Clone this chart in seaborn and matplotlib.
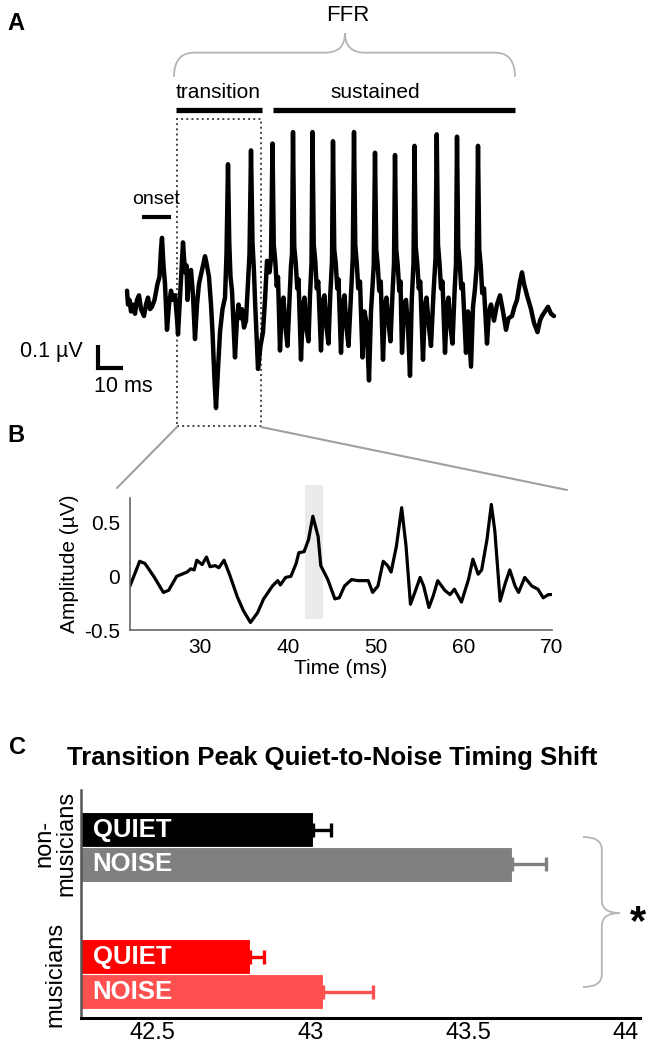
import matplotlib
matplotlib.use("Agg")
import numpy as np
import pandas as pd
import matplotlib.pyplot as plt
import seaborn as sns
from matplotlib.path import Path
from matplotlib.patches import PathPatch, Rectangle
from matplotlib.lines import Line2D

# ---- panel A: FFR to /da/ (ms, uV) ----
ffr_t = [0.0, 0.4, 1.0, 1.6, 2.4, 3.2, 4.0, 4.8, 5.6, 6.8, 7.6, 8.4, 9.2, 10.0, 11.0, 12.2, 13.0,
         13.6, 14.0, 14.6, 15.2, 16.0, 16.8, 17.6, 18.4, 19.2, 20.0, 20.4, 21.4, 22.4, 23.2, 23.8,
         24.2, 24.6, 25.6, 26.4, 27.2, 28.0, 28.8, 29.8, 31.2, 31.8, 32.8, 33.6, 34.2, 35.0, 35.6,
         36.4, 37.2, 38.2, 39.2, 39.8, 40.4, 40.9, 41.4, 42.0, 43.2, 44.0, 44.6, 45.4, 46.0, 46.8,
         47.6, 48.4, 49.0, 49.6, 50.2, 50.8, 51.2, 52.4, 53.4, 54.4, 55.2, 56.0, 57.0,
         57.6, 58.2, 58.7, 59.3, 59.9, 60.4, 61.2, 62.0, 62.6, 63.4, 64.2, 65.0, 65.6, 66.0,
         66.4, 66.9, 67.5, 68.1, 68.6, 69.6, 70.4, 71.0, 71.8, 72.6, 73.2, 73.8,
         74.2, 74.7, 75.3, 75.9, 76.5, 77.6, 78.4, 79.0, 79.8, 80.6, 81.3, 82.0,
         82.4, 82.9, 83.5, 84.1, 84.6, 85.6, 86.4, 87.0, 87.8, 88.6, 89.6, 90.3,
         90.8, 91.3, 91.9, 92.5, 93.2, 94.2, 95.0, 95.8, 96.8, 97.6, 98.7,
         99.2, 99.7, 100.3, 100.9, 101.5, 102.4, 103.2, 103.8, 104.8, 105.4, 106.2, 106.8,
         107.2, 107.7, 108.3, 108.9, 109.4, 110.0, 110.9, 111.6, 112.4, 113.2, 113.9, 114.6,
         115.0, 115.5, 116.1, 116.7, 117.3, 118.4, 119.2, 119.8, 120.8, 121.6, 122.6, 123.4,
         123.9, 124.4, 125.0, 125.6, 126.2, 127.2, 128.0, 128.6, 129.4, 130.2, 131.0, 131.6,
         132.0, 132.5, 133.1, 133.7, 134.3, 135.6, 136.4, 137.6, 138.4, 139.2, 139.9,
         140.4, 140.9, 141.5, 142.1, 142.8, 144.0, 144.8, 145.6, 146.8, 148.0, 149.2,
         150.4, 151.6, 152.6, 154.0, 155.0, 156.0, 157.2, 158.0, 158.8, 160.0, 161.6, 162.8,
         164.2, 165.2, 166.0, 167.2, 168.4, 169.6, 170.8]
ffr_amp = [0.04, -0.02, 0.0, -0.05, -0.02, -0.06, 0.0, 0.02, -0.04, -0.07, -0.02, 0.01, -0.04, -0.03, 0.0, 0.07, 0.10,
           0.22, 0.27, 0.15, 0.07, -0.13, -0.02, 0.04, 0.0, 0.02, -0.08, -0.15, 0.05, 0.25, 0.12, 0.15,
           0.0, 0.08, 0.13, 0.02, -0.17, -0.02, 0.07, 0.12, 0.19, 0.16, 0.10, -0.02, -0.14, -0.35, -0.47,
           -0.30, -0.14, -0.04, 0.01, 0.20, 0.59, 0.25, 0.10, 0.04, -0.25, -0.08, -0.02, -0.08, -0.04, -0.12,
           -0.09, 0.08, 0.20, 0.65, 0.25, 0.12, 0.0, -0.30, -0.20, -0.14, 0.0, 0.17, 0.12,
           0.18, 0.68, 0.24, 0.17, 0.06, 0.10, -0.22, -0.02, 0.01, -0.12, -0.20, 0.0, 0.15, 0.20,
           0.73, 0.23, 0.16, 0.05, 0.09, -0.26, -0.02, 0.01, -0.13, -0.18, 0.02, 0.16,
           0.73, 0.24, 0.17, 0.05, 0.08, -0.22, 0.0, 0.02, -0.12, -0.19, 0.02, 0.17,
           0.69, 0.22, 0.16, 0.05, 0.09, -0.23, -0.01, 0.02, -0.12, -0.20, 0.02, 0.18,
           0.73, 0.24, 0.16, 0.05, 0.08, -0.25, -0.05, -0.10, -0.35, -0.05, 0.15,
           0.64, 0.22, 0.15, 0.04, 0.08, -0.26, -0.02, 0.01, -0.12, -0.18, 0.03, 0.16,
           0.63, 0.22, 0.15, 0.04, 0.08, -0.23, -0.02, 0.0, -0.12, -0.33, 0.0, 0.16,
           0.67, 0.23, 0.16, 0.05, 0.08, -0.26, -0.02, 0.01, -0.12, -0.20, 0.03, 0.18,
           0.72, 0.24, 0.16, 0.05, 0.08, -0.23, -0.02, 0.01, -0.12, -0.19, 0.03, 0.16,
           0.71, 0.23, 0.16, 0.05, 0.07, -0.23, -0.05, -0.29, -0.03, 0.05, 0.15,
           0.67, 0.22, 0.15, 0.03, 0.05, -0.19, -0.05, -0.02, -0.09, -0.02, 0.02,
           -0.05, -0.13, -0.08, -0.07, -0.03, 0.0, 0.08, 0.12, 0.07, 0.02, -0.04, -0.10,
           -0.14, -0.09, -0.07, -0.05, -0.03, -0.06, -0.07]

# ---- panel B: transition region ----
zoom_t = [22.0, 23.1, 23.7, 24.7, 25.8, 26.4, 27.3, 28.5, 28.9, 29.3, 29.6, 30.2, 30.7, 31.1, 31.7,
          32.1, 32.7, 33.4, 34.2, 34.9, 35.7, 36.5, 37.2, 38.2, 38.8, 39.1, 39.7, 40.3, 40.9,
          41.2, 41.8, 42.3, 42.8, 43.4, 43.7, 44.5, 45.3, 45.8, 46.4, 47.2, 47.9, 49.1, 49.6,
          50.2, 50.8, 51.3, 51.7, 52.3, 52.9, 53.4, 53.9, 54.4, 55.0, 55.4, 56.0, 56.5, 57.0,
          57.8, 58.4, 58.9, 59.7, 60.5, 61.0, 61.6, 62.0, 62.6, 63.1, 63.5, 64.1, 64.7, 65.2,
          65.8, 66.2, 66.9, 67.7, 68.4, 69.0, 69.6, 70.0]
zoom_amp = [-0.09, 0.14, 0.12, 0.0, -0.15, -0.13, 0.0, 0.04, 0.07, 0.06, 0.15, 0.11, 0.18, 0.09, 0.10,
            0.08, 0.15, 0.0, -0.19, -0.32, -0.43, -0.34, -0.21, -0.09, -0.04, -0.08, -0.01, 0.0, 0.12,
            0.22, 0.23, 0.34, 0.56, 0.37, 0.10, -0.03, -0.21, -0.20, -0.09, -0.03, -0.04, -0.04, -0.15,
            -0.09, 0.14, 0.10, 0.04, 0.28, 0.64, 0.28, -0.26, -0.15, -0.01, -0.09, -0.29, -0.18, -0.04,
            -0.13, -0.17, -0.12, -0.24, -0.03, 0.16, 0.02, 0.06, 0.34, 0.67, 0.42, -0.23, -0.06, 0.06,
            -0.09, -0.15, -0.01, -0.09, -0.12, -0.20, -0.17, -0.17]
peak_window = (41.9, 43.9)
zoom_xticks = [30, 40, 50, 60, 70]
zoom_yticks = [-0.5, 0, 0.5]
zoom_yticklabels = ["-0.5", "0", "0.5"]

# ---- panel C: transition peak latency (ms) ----
groups = ["non-musicians", "non-musicians", "musicians", "musicians"]
conditions = ["QUIET", "NOISE", "QUIET", "NOISE"]
peak_latency = [43.01, 43.64, 42.81, 43.04]
latency_sem = [0.054, 0.108, 0.044, 0.159]
bar_colors = ["#000000", "#808080", "#ff0000", "#ff5050"]
c_ticks = [42.5, 43, 43.5, 44]
c_ticklabels = ["42.5", "43", "43.5", "44"]

W, H = 649, 1050


def fx(px):
    return px / W


def fy(py):
    return 1 - py / H


def curly_brace(ax, a0, a1, am, b_end, b_arm, b_tip, r, vertical=False, **kw):
    pts = [(a0, b_end), (a0, b_arm), (a0 + r, b_arm), (am - r, b_arm), (am, b_arm), (am, b_tip),
           (am, b_arm), (am + r, b_arm), (a1 - r, b_arm), (a1, b_arm), (a1, b_end)]
    codes = [Path.MOVETO, Path.CURVE3, Path.CURVE3, Path.LINETO, Path.CURVE3, Path.CURVE3,
             Path.CURVE3, Path.CURVE3, Path.LINETO, Path.CURVE3, Path.CURVE3]
    if vertical:
        pts = [(b, a) for a, b in pts]
    ax.add_patch(PathPatch(Path(pts, codes), fill=False, clip_on=False, **kw))


sns.set_theme(style="white")
plt.rcParams["font.family"] = ["Liberation Sans", "DejaVu Sans"]
plt.rcParams["axes.unicode_minus"] = False
for k in ("text.color", "axes.labelcolor", "xtick.color", "ytick.color"):
    plt.rcParams[k] = "black"

fig = plt.figure(figsize=(6.49, 10.5), dpi=100)

# ---------------- A ----------------
axa = fig.add_axes([0, fy(440), 1, 440 / H])
sns.lineplot(x=ffr_t, y=ffr_amp, ax=axa, color="black", lw=3.2, sort=False, estimator=None)
axa.set_xlim(-50.8, 208.8)
axa.set_ylim(-0.609, 1.304)
axa.axis("off")

curly_brace(axa, 18.8, 155.2, 87.2, 0.97, 1.075, 1.16, 8, edgecolor="#b5b5b5", lw=1.3)
axa.text(88.4, 1.235, "FFR", ha="center", va="center", fontsize=16)
axa.text(36.4, 0.900, "transition", ha="center", va="center", fontsize=15)
axa.text(99.2, 0.900, "sustained", ha="center", va="center", fontsize=15)
axa.plot([19.6, 54.0], [0.825, 0.825], color="black", lw=3.8, solid_capstyle="butt")
axa.plot([58.4, 155.2], [0.825, 0.825], color="black", lw=3.8, solid_capstyle="butt")
axa.text(11.6, 0.435, "onset", ha="center", va="center", fontsize=14)
axa.plot([6.0, 17.6], [0.362, 0.362], color="black", lw=3.0, solid_capstyle="butt")
axa.add_patch(Rectangle((20.0, -0.548), 33.6, 1.335, fill=False, ls=":", lw=1.4, edgecolor="#444444"))

# scale bar 0.1 uV / 10 ms
axa.plot([-11.6, -11.6, -1.6], [-0.196, -0.296, -0.296], color="black", lw=3.0,
         solid_joinstyle="miter", solid_capstyle="butt")
axa.text(-17.5, -0.226, "0.1 µV", ha="right", va="center", fontsize=15.5)
axa.text(-13.4, -0.378, "10 ms", ha="left", va="center", fontsize=15.5)

# ---------------- B ----------------
axb = fig.add_axes([fx(130), fy(630), 422 / W, 132 / H])
axb.add_patch(Rectangle((peak_window[0], -0.40), peak_window[1] - peak_window[0], 1.25,
                        facecolor="#ebebeb", edgecolor="none", clip_on=False, zorder=0))
sns.lineplot(x=zoom_t, y=zoom_amp, ax=axb, color="black", lw=2.3, sort=False, estimator=None)
axb.set_xlim(22, 70)
axb.set_ylim(-0.5, 0.73)
axb.set_xticks(zoom_xticks)
axb.set_yticks(zoom_yticks)
axb.set_yticklabels(zoom_yticklabels)
axb.tick_params(axis="x", direction="in", length=4, width=1, color="#666666", labelsize=15, pad=6)
axb.tick_params(axis="y", length=0, labelsize=15, pad=7)
axb.set_xlabel("Time (ms)", fontsize=15, labelpad=1)
axb.set_ylabel("Amplitude (µV)", fontsize=15, labelpad=4)
sns.despine(ax=axb)
for s in ("left", "bottom"):
    axb.spines[s].set_color("#666666")
    axb.spines[s].set_linewidth(1.2)

# connectors A -> B
for (x0, y0), (x1, y1) in [((177, 427), (117, 488)), ((261, 427), (567, 490))]:
    fig.add_artist(Line2D([fx(x0), fx(x1)], [fy(y0), fy(y1)], transform=fig.transFigure,
                          color="#a0a0a0", lw=1.5))

# ---------------- C ----------------
axc = fig.add_axes([fx(81), fy(1018), 559 / W, 228 / H])
df = pd.DataFrame({"group": groups, "condition": conditions, "latency": peak_latency})
sns.barplot(data=df, x="latency", y="group", hue="condition", orient="h", width=0.55,
            order=["non-musicians", "musicians"], hue_order=["QUIET", "NOISE"],
            palette=["#000000", "#808080"], legend=False, ax=axc, errorbar=None)

# recolour each bar and add the one-sided error bars
centers = []
for p in axc.patches:
    yc = p.get_y() + p.get_height() / 2
    gi = int(round(yc))
    ci = 0 if yc < gi else 1
    idx = gi * 2 + ci
    p.set_facecolor(bar_colors[idx])
    p.set_edgecolor("white")
    p.set_linewidth(0.8)
    centers.append((idx, yc))
centers = dict(centers)
for i in range(4):
    axc.errorbar(peak_latency[i], centers[i], xerr=[[0], [latency_sem[i]]], fmt="none",
                 ecolor=bar_colors[i], elinewidth=2.4, capsize=5, capthick=2.4, zorder=1)
    axc.text(42.31, centers[i], conditions[i], color="white", fontsize=18.5, fontweight="bold",
             ha="left", va="center")

axc.set_xlim(42.273, 44.045)
axc.set_ylim(1.346, -0.449)
axc.set_xticks(c_ticks)
axc.set_xticklabels(c_ticklabels)
axc.set_yticks([])
axc.set_xlabel("")
axc.set_ylabel("")
axc.tick_params(axis="x", length=0, labelsize=17, pad=3)
sns.despine(ax=axc)
axc.spines["bottom"].set_color("black")
axc.spines["bottom"].set_linewidth(2.2)
axc.spines["left"].set_color("#555555")
axc.spines["left"].set_linewidth(1.8)

curly_brace(axc, -0.079, 1.102, 0.52, 43.864, 43.924, 43.981, 0.1, vertical=True,
            edgecolor="#b5b5b5", lw=1.3)
axc.text(44.038, 0.60, "*", ha="center", va="center", fontsize=30, fontweight="bold")

fig.text(fx(55), fy(843), "non-\nmusicians", rotation=90, ha="center", va="center",
         fontsize=17, multialignment="center", linespacing=1.0)
fig.text(fx(55), fy(974), "musicians", rotation=90, ha="center", va="center", fontsize=17)
fig.text(fx(332), fy(758), "Transition Peak Quiet-to-Noise Timing Shift", ha="center",
         va="center", fontsize=18.5, fontweight="bold")

# panel letters
fig.text(fx(16), fy(24), "A", ha="center", va="center", fontsize=17, fontweight="bold")
fig.text(fx(16), fy(436), "B", ha="center", va="center", fontsize=17, fontweight="bold")
fig.text(fx(17), fy(748), "C", ha="center", va="center", fontsize=17, fontweight="bold")

fig.savefig("out.png", dpi=100)
